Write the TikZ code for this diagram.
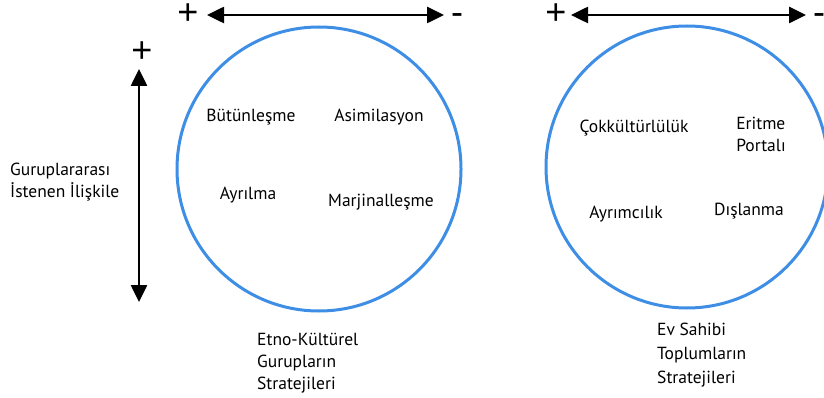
\documentclass[tikz,border=0pt]{standalone}
\usepackage{fontspec}
\setmainfont{PT Sans}
\newfontfamily\signfont{Liberation Sans}
\usetikzlibrary{arrows.meta}
\definecolor{cblue}{RGB}{62,142,230}
\begin{document}
\begin{tikzpicture}[x=1pt,y=-1pt,
  ring/.style={draw=cblue,line width=3pt},
  axis/.style={line width=2.6pt,{Triangle[length=17pt,width=16pt]}-{Triangle[length=17pt,width=16pt]}},
  lbl/.style={font=\fontsize{17.5}{22}\selectfont,inner sep=0pt},
  sign/.style={font=\signfont\fontsize{36}{36}\selectfont,inner sep=0pt,text height=12pt,text depth=0pt},
  captxt/.style={lbl,align=left,anchor=north west}]
\useasboundingbox (0,0) rectangle (824,398);
% circles
\node[ring,circle,minimum size=284pt,inner sep=0pt] (c1) at (319,169) {};
\node[ring,circle,minimum size=282pt,inner sep=0pt] (c2) at (687,167) {};
% top arrows
\coordinate (a1l) at (207,15);
\coordinate (a1r) at (444,15);
\draw[axis] (a1l) -- (a1r);
\node[sign,anchor=base] (p1) at (188,25) {+};
\node[sign,anchor=base] (m1) at (457,25) {-};
\coordinate (a2l) at (571,15);
\coordinate (a2r) at (806,15);
\draw[axis] (a2l) -- (a2r);
\node[sign,anchor=base] (p2) at (556,25) {+};
\node[sign,anchor=base] (m2) at (819,25) {-};
% vertical arrow
\coordinate (vt) at (139,69);
\coordinate (vb) at (139,302);
\draw[axis] (vt) -- (vb);
\node[sign,anchor=base] (p3) at (142,63) {+};
\node[lbl,align=left,anchor=west] (side) at (10,182) {Guruplararası\\İstenen İlişkile};
% left circle labels
\node[lbl] (n1) at (251,117) {Bütünleşme};
\node[lbl] (n2) at (379,117) {Asimilasyon};
\node[lbl] (n3) at (248,195) {Ayrılma};
\node[lbl] (n4) at (381,202) {Marjinalleşme};
% right circle labels
\node[lbl] (n5) at (634,128) {Çokkültürlülük};
\node[lbl,align=left] (n6) at (761,134) {Eritme\\Portalı};
\node[lbl] (n7) at (626,214) {Ayrımcılık};
\node[lbl] (n8) at (749,211) {Dışlanma};
% captions
\node[captxt] (t1) at (257,333) {Etno-Kültürel\\Gurupların\\Stratejileri};
\node[captxt,font=\fontsize{17.5}{24}\selectfont] (t2) at (657,323) {Ev Sahibi\\Toplumların\\Stratejileri};
\end{tikzpicture}
\end{document}
